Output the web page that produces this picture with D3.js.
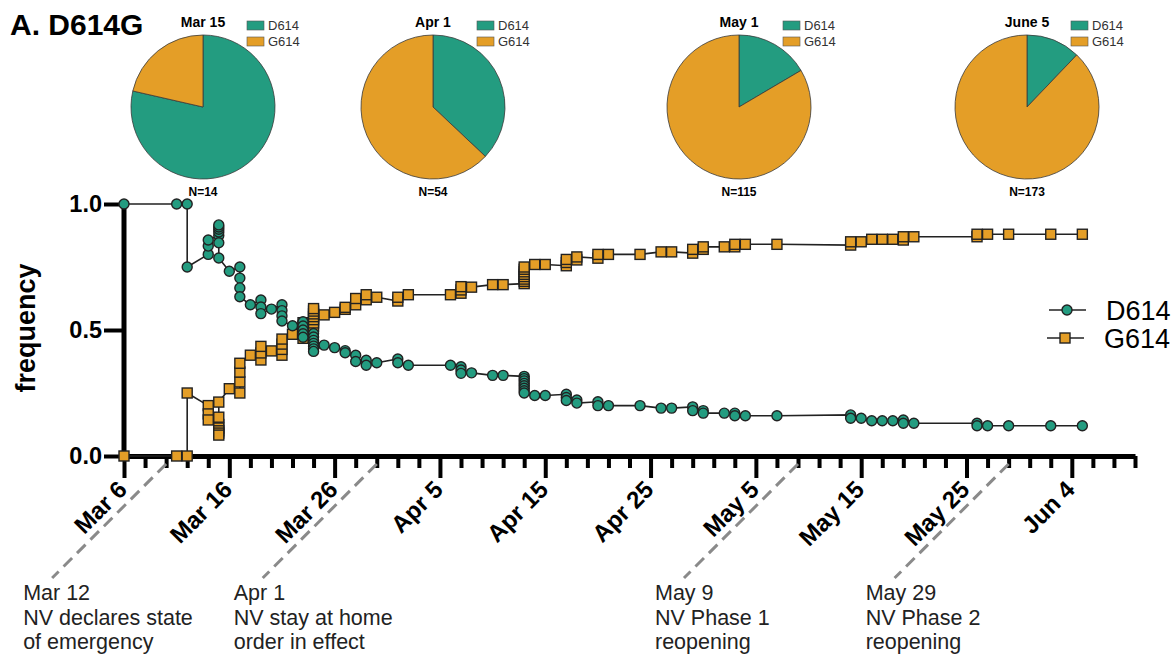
<!DOCTYPE html>
<html>
<head>
<meta charset="utf-8">
<script src="https://cdn.jsdelivr.net/npm/d3@7"></script>
<style>
  body { margin: 0; background: #fff; }
  svg { font-family: Arial, "Liberation Sans", Helvetica, sans-serif; }
</style>
</head>
<body>
<div id="chart"></div>
<script>
let w = 1173
let h = 655

let D_COLOR = "#239c80"
let G_COLOR = "#e49e27"

// sample dates (2020) and cumulative frequencies
let sampleDates = ["2020-03-06","2020-03-11","2020-03-12","2020-03-14","2020-03-15","2020-03-16","2020-03-17","2020-03-18","2020-03-19","2020-03-20","2020-03-21","2020-03-22","2020-03-23","2020-03-24","2020-03-25","2020-03-26","2020-03-27","2020-03-28","2020-03-29","2020-03-30","2020-04-01","2020-04-02","2020-04-06","2020-04-07","2020-04-08","2020-04-10","2020-04-11","2020-04-13","2020-04-14","2020-04-15","2020-04-17","2020-04-18","2020-04-20","2020-04-21","2020-04-24","2020-04-26","2020-04-27","2020-04-29","2020-04-30","2020-05-02","2020-05-03","2020-05-04","2020-05-07","2020-05-14","2020-05-15","2020-05-16","2020-05-17","2020-05-18","2020-05-19","2020-05-20","2020-05-26","2020-05-27","2020-05-29","2020-06-02","2020-06-05"]

let d614Freq = [[1],[1],[1,0.75],[0.8,0.833,0.857],[0.875,0.889,0.9,0.909,0.917,0.846,0.786],[0.733],[0.75,0.706,0.667,0.632],[0.6],[0.619,0.591,0.565],[0.583],[0.6,0.577,0.556,0.536],[0.517],[0.533,0.516,0.5,0.485,0.471],[0.486,0.472,0.459,0.447,0.436,0.425,0.415],[0.44],[0.43],[0.418,0.41],[0.4,0.375],[0.38,0.36],[0.37],[0.385,0.37],[0.36],[0.36],[0.354,0.341,0.328],[0.33],[0.32],[0.32],[0.316,0.307,0.298,0.288,0.279,0.269,0.259,0.25],[0.24],[0.24],[0.245,0.232,0.22],[0.222,0.21],[0.215,0.2],[0.2],[0.2],[0.19],[0.19],[0.195,0.18],[0.18,0.17],[0.17],[0.17,0.16],[0.16],[0.16],[0.163,0.15],[0.15],[0.14],[0.14],[0.14],[0.143,0.13],[0.13],[0.13,0.12],[0.12],[0.12],[0.12],[0.12]]

let g614Freq = [[0],[0],[0,0.25],[0.2,0.167,0.143],[0.125,0.111,0.1,0.091,0.083,0.154,0.214],[0.267],[0.25,0.294,0.333,0.368],[0.4],[0.381,0.409,0.435],[0.417],[0.4,0.423,0.444,0.464],[0.483],[0.467,0.484,0.5,0.515,0.529],[0.514,0.528,0.541,0.553,0.564,0.575,0.585],[0.56],[0.57],[0.582,0.59],[0.6,0.625],[0.62,0.64],[0.63],[0.615,0.63],[0.64],[0.64],[0.646,0.659,0.672],[0.67],[0.68],[0.68],[0.684,0.693,0.702,0.712,0.721,0.731,0.741,0.75],[0.76],[0.76],[0.755,0.768,0.78],[0.778,0.79],[0.785,0.8],[0.8],[0.8],[0.81],[0.81],[0.805,0.82],[0.82,0.83],[0.83],[0.83,0.84],[0.84],[0.84],[0.837,0.85],[0.85],[0.86],[0.86],[0.86],[0.857,0.87],[0.87],[0.87,0.88],[0.88],[0.88],[0.88],[0.88]]

// pies
let pieTitles = ["Mar 15", "Apr 1", "May 1", "June 5"]
let pieD = [11, 20, 19, 21]
let pieG = [3, 34, 96, 152]
let pieCenters = [203, 433, 739, 1027]

// events
let eventLineDates = ["2020-03-10", "2020-03-30", "2020-05-09", "2020-05-29"]
let eventText = [
  ["Mar 12", "NV declares state", "of emergency"],
  ["Apr 1", "NV stay at home", "order in effect"],
  ["May 9", "NV Phase 1", "reopening"],
  ["May 29", "NV Phase 2", "reopening"]
]

let parseDate = d3.utcParse("%Y-%m-%d")
let startDate = parseDate("2020-03-06")
let endDate = parseDate("2020-06-10")

let svg = d3.select("#chart").append("svg")
  .attr("width", w)
  .attr("height", h)

let x = d3.scaleUtc().domain([startDate, endDate]).range([124, 1135])
let y = d3.scaleLinear().domain([0, 1]).range([456, 204])

let flatten = series => {
  let pts = []
  sampleDates.forEach((s, i) => {
    series[i].forEach(v => pts.push({ date: parseDate(s), value: v }))
  })
  return pts
}
let dPoints = flatten(d614Freq)
let gPoints = flatten(g614Freq)

// title
svg.append("text")
  .attr("x", 10).attr("y", 35)
  .attr("font-size", 30).attr("font-weight", "bold")
  .text("A. D614G")

// axes
let allDays = d3.utcDay.range(startDate, d3.utcDay.offset(endDate, 1))
let xTicks = allDays.filter((d, i) => i % 2 == 0)
let isMajor = d => d3.utcDay.count(startDate, d) % 10 == 0
let fmt = d3.utcFormat("%b %-d")

let xAxis = d3.axisBottom(x)
  .tickValues(xTicks)
  .tickSize(12)
  .tickSizeOuter(0)
  .tickFormat(d => isMajor(d) ? fmt(d) : "")

let gx = svg.append("g")
  .attr("transform", "translate(0," + y(0) + ")")
  .call(xAxis)
gx.select(".domain").attr("stroke-width", 5)
gx.selectAll(".tick line").attr("stroke-width", 4)
  .attr("y2", d => isMajor(d) ? 22 : 12)
gx.selectAll(".tick text")
  .attr("x", 0).attr("y", 0).attr("dy", 0)
  .attr("transform", "translate(4,35) rotate(-45)")
  .style("text-anchor", "end")
  .attr("font-size", 24).attr("font-weight", "bold")
  .attr("font-family", "Arial, 'Liberation Sans', sans-serif")
  .attr("fill", "#000")

let yAxis = d3.axisLeft(y)
  .tickValues([0, 0.5, 1])
  .tickSize(20)
  .tickPadding(2)
  .tickSizeOuter(0)
  .tickFormat(d3.format(".1f"))

let gy = svg.append("g")
  .attr("transform", "translate(" + x(startDate) + ",0)")
  .call(yAxis)
gy.select(".domain").attr("stroke-width", 5).attr("d", "M0," + (y(0) + 2) + "V" + (y(1) - 2))
gy.selectAll(".tick line").attr("stroke-width", 4)
gy.selectAll(".tick text")
  .attr("font-size", 23.5).attr("font-weight", "bold")
  .attr("font-family", "Arial, 'Liberation Sans', sans-serif")
  .attr("fill", "#000")

svg.append("text")
  .attr("transform", "translate(35,328) rotate(-90)")
  .attr("text-anchor", "middle")
  .attr("font-size", 27).attr("font-weight", "bold")
  .text("frequency")

// lines
let line = d3.line().x(d => x(d.date)).y(d => y(d.value))
svg.append("path").datum(gPoints)
  .attr("d", line).attr("fill", "none").attr("stroke", "#222").attr("stroke-width", 1.6)
svg.append("path").datum(dPoints)
  .attr("d", line).attr("fill", "none").attr("stroke", "#222").attr("stroke-width", 1.6)

// markers
svg.append("g").selectAll("rect")
  .data(gPoints)
  .enter()
  .append("rect")
  .attr("x", d => x(d.date) - 5)
  .attr("y", d => y(d.value) - 5)
  .attr("width", 10).attr("height", 10)
  .attr("fill", G_COLOR).attr("stroke", "#222").attr("stroke-width", 1.4)

svg.append("g").selectAll("circle")
  .data(dPoints)
  .enter()
  .append("circle")
  .attr("cx", d => x(d.date))
  .attr("cy", d => y(d.value))
  .attr("r", 5)
  .attr("fill", D_COLOR).attr("stroke", "#222").attr("stroke-width", 1.4)

// right legend
let legend = svg.append("g")
legend.append("line").attr("x1", 1049).attr("x2", 1086).attr("y1", 310).attr("y2", 310)
  .attr("stroke", "#222").attr("stroke-width", 1.6)
legend.append("circle").attr("cx", 1067).attr("cy", 310).attr("r", 5)
  .attr("fill", D_COLOR).attr("stroke", "#222").attr("stroke-width", 1.4)
legend.append("text").attr("x", 1106).attr("y", 320).attr("font-size", 27).text("D614")
legend.append("line").attr("x1", 1047).attr("x2", 1084).attr("y1", 338).attr("y2", 338)
  .attr("stroke", "#222").attr("stroke-width", 1.6)
legend.append("rect").attr("x", 1060).attr("y", 333).attr("width", 10).attr("height", 10)
  .attr("fill", G_COLOR).attr("stroke", "#222").attr("stroke-width", 1.4)
legend.append("text").attr("x", 1104).attr("y", 348).attr("font-size", 27).text("G614")

// events
eventLineDates.forEach((s, i) => {
  let x0 = x(parseDate(s))
  svg.append("line")
    .attr("x1", x0).attr("y1", 464)
    .attr("x2", x0 - 114).attr("y2", 578)
    .attr("stroke", "#8a8a8a").attr("stroke-width", 3)
    .attr("stroke-dasharray", "12,7")
  svg.append("g").selectAll("text")
    .data(eventText[i])
    .enter()
    .append("text")
    .attr("x", x0 - 143)
    .attr("y", (d, j) => 600 + j * 24.5)
    .attr("font-size", 21.5)
    .attr("fill", "#222")
    .text(d => d)
})

// pies
let pie = d3.pie().sort(null)
let arc = d3.arc().innerRadius(0).outerRadius(72)
pieTitles.forEach((t, i) => {
  let cx = pieCenters[i]
  let g = svg.append("g").attr("transform", "translate(" + cx + ",107)")
  g.selectAll("path")
    .data(pie([pieD[i], pieG[i]]))
    .enter()
    .append("path")
    .attr("d", arc)
    .attr("fill", (d, j) => j == 0 ? D_COLOR : G_COLOR)
    .attr("stroke", "#3a3a3a").attr("stroke-width", 0.8)
  svg.append("text").attr("x", cx).attr("y", 27)
    .attr("text-anchor", "middle").attr("font-size", 14).attr("font-weight", "bold")
    .text(t)
  svg.append("text").attr("x", cx).attr("y", 196)
    .attr("text-anchor", "middle").attr("font-size", 12).attr("font-weight", "bold")
    .text("N=" + (pieD[i] + pieG[i]))
  let names = ["D614", "G614"]
  names.forEach((n, j) => {
    svg.append("rect")
      .attr("x", cx + 44).attr("y", 21 + j * 16)
      .attr("width", 17).attr("height", 9)
      .attr("fill", j == 0 ? D_COLOR : G_COLOR)
      .attr("stroke", "#555").attr("stroke-width", 0.6)
    svg.append("text")
      .attr("x", cx + 65).attr("y", 30 + j * 16)
      .attr("font-size", 13).attr("fill", "#333")
      .text(n)
  })
})
</script>
</body>
</html>
